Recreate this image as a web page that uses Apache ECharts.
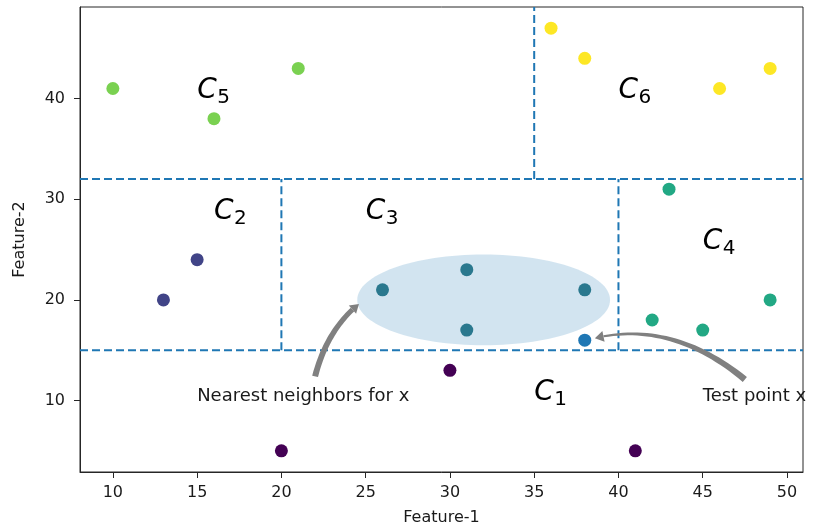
<!DOCTYPE html>
<html>
<head>
  <meta charset="utf-8">
</head>
<body style="margin: 0; background: #fff">
  <div id="container" style="width: 817px; height: 526px"></div>
  <script src="https://cdn.jsdelivr.net/npm/echarts@6/dist/echarts.min.js"></script>
  <script>
    // cluster points [feature-1, feature-2]
    var c1Points = [[20, 5], [30, 13], [41, 5]];
    var c2Points = [[13, 20], [15, 24]];
    var c3Points = [[26, 21], [31, 23], [31, 17], [38, 21]];
    var c4Points = [[43, 31], [42, 18], [45, 17], [49, 20]];
    var c5Points = [[10, 41], [16, 38], [21, 43]];
    var c6Points = [[36, 47], [38, 44], [46, 41], [49, 43]];
    var testPoint = [[38, 16]];

    var xTicks = [10, 15, 20, 25, 30, 35, 40, 45, 50];
    var yTicks = [10, 20, 30, 40];
    var xRange = [8.05, 50.95];
    var yRange = [2.9, 49.1];

    // partition lines
    var hSplits = [32, 15];
    var vSplits = [[35, 32, 49.1], [20, 15, 32], [40, 15, 32]]; // x, from y, to y

    // neighbourhood ellipse: cx, cy, width, height
    var neighborEllipse = [[32, 20, 15, 9]];

    // region labels: subscript, x, y (left / baseline)
    var regionLabels = [['1', 35, 10], ['2', 16, 28], ['3', 25, 28], ['4', 45, 25], ['5', 15, 40], ['6', 40, 40]];
    var noteTexts = [['Nearest neighbors for x', 15, 10], ['Test point x', 45, 10]];
    // arrows: tail x,y, control x,y, head x,y
    var arrows = [[22, 12.4, 22.7, 17, 24.6, 19.6], [47.5, 12.1, 43.2, 18, 38.6, 16.2]];

    var arrowWidths = [[6, 5], [6.5, 2]];
    var fontFamily = '"DejaVu Sans"';

    var dom = document.getElementById('container');
    var myChart = echarts.init(dom, null, { renderer: 'canvas' });

    function dashed(data) {
      return {
        type: 'line',
        data: data,
        symbol: 'none',
        silent: true,
        animation: false,
        lineStyle: { color: '#1f77b4', width: 2, type: [8, 4] },
        z: 1
      };
    }

    function dots(data, color) {
      return {
        type: 'scatter',
        data: data,
        symbolSize: 13,
        itemStyle: { color: color, opacity: 1 },
        z: 3
      };
    }

    function bez(p0, cp, p1, t) {
      var a = (1 - t) * (1 - t), b = 2 * (1 - t) * t, c = t * t;
      return [a * p0[0] + b * cp[0] + c * p1[0], a * p0[1] + b * cp[1] + c * p1[1]];
    }

    function arrowItem(params, api) {
      var p0 = api.coord([api.value(0), api.value(1)]);
      var cp = api.coord([api.value(2), api.value(3)]);
      var p1 = api.coord([api.value(4), api.value(5)]);
      var w = arrowWidths[params.dataIndex];
      var headLen = 9, headW = 11;
      var len = 0, prev = p0;
      for (var k = 1; k <= 40; k++) {
        var q = bez(p0, cp, p1, k / 40);
        len += Math.hypot(q[0] - prev[0], q[1] - prev[1]);
        prev = q;
      }
      var tEnd = 1 - headLen / len;
      var left = [], right = [], n = 30;
      for (var i = 0; i <= n; i++) {
        var t = tEnd * i / n;
        var pt = bez(p0, cp, p1, t);
        var dx = 2 * (1 - t) * (cp[0] - p0[0]) + 2 * t * (p1[0] - cp[0]);
        var dy = 2 * (1 - t) * (cp[1] - p0[1]) + 2 * t * (p1[1] - cp[1]);
        var dl = Math.hypot(dx, dy);
        var nx = -dy / dl, ny = dx / dl;
        var hw = (w[0] + (w[1] - w[0]) * i / n) / 2;
        left.push([pt[0] + nx * hw, pt[1] + ny * hw]);
        right.push([pt[0] - nx * hw, pt[1] - ny * hw]);
      }
      var base = bez(p0, cp, p1, tEnd);
      var ux = p1[0] - base[0], uy = p1[1] - base[1], ul = Math.hypot(ux, uy);
      var mx = -uy / ul, my = ux / ul;
      return {
        type: 'group',
        children: [
          { type: 'polygon', shape: { points: left.concat(right.reverse()) }, style: { fill: '#808080' } },
          {
            type: 'polygon',
            shape: { points: [p1, [base[0] + mx * headW / 2, base[1] + my * headW / 2], [base[0] - mx * headW / 2, base[1] - my * headW / 2]] },
            style: { fill: '#808080' }
          }
        ]
      };
    }

    var series = [];
    hSplits.forEach(function (y) {
      series.push(dashed([[xRange[0], y], [xRange[1], y]]));
    });
    vSplits.forEach(function (v) {
      series.push(dashed([[v[0], v[1]], [v[0], v[2]]]));
    });

    series.push({
      type: 'custom',
      data: neighborEllipse,
      silent: true,
      z: 2,
      renderItem: function (params, api) {
        var c = api.coord([api.value(0), api.value(1)]);
        var s = api.size([api.value(2), api.value(3)]);
        return {
          type: 'ellipse',
          shape: { cx: c[0], cy: c[1], rx: s[0] / 2, ry: s[1] / 2 },
          style: { fill: 'rgba(31,119,180,0.2)' }
        };
      }
    });

    series.push(dots(c1Points, '#440154'));
    series.push(dots(c2Points, '#414487'));
    series.push(dots(c3Points, '#2a788e'));
    series.push(dots(c4Points, '#22a884'));
    series.push(dots(c5Points, '#7ad151'));
    series.push(dots(c6Points, '#fde725'));
    series.push(dots(testPoint, '#1f77b4'));

    series.push({
      type: 'custom',
      data: arrows,
      silent: true,
      z: 4,
      renderItem: arrowItem
    });

    series.push({
      type: 'custom',
      data: regionLabels.map(function (r) { return [r[1], r[2], r[0]]; }),
      silent: true,
      z: 5,
      renderItem: function (params, api) {
        var c = api.coord([api.value(0), api.value(1)]);
        var sub = regionLabels[params.dataIndex][0];
        return {
          type: 'group',
          children: [
            {
              type: 'text', x: c[0], y: c[1] + 6,
              style: { text: 'C', font: 'italic 28px ' + fontFamily, fill: '#000', textAlign: 'left', textVerticalAlign: 'bottom' }
            },
            {
              type: 'text', x: c[0] + 20, y: c[1] + 9,
              style: { text: sub, font: '20px ' + fontFamily, fill: '#000', textAlign: 'left', textVerticalAlign: 'bottom' }
            }
          ]
        };
      }
    });

    series.push({
      type: 'custom',
      data: noteTexts.map(function (r) { return [r[1], r[2]]; }),
      silent: true,
      z: 5,
      renderItem: function (params, api) {
        var c = api.coord([api.value(0), api.value(1)]);
        return {
          type: 'text', x: c[0], y: c[1] + 5,
          style: { text: noteTexts[params.dataIndex][0], font: '18px ' + fontFamily, fill: '#1a1a1a', textAlign: 'left', textVerticalAlign: 'bottom' }
        };
      }
    });

    var option = {
      backgroundColor: '#fff',
      animation: false,
      grid: {
        left: 80, right: 14, top: 7, bottom: 54,
        outerBoundsMode: 'none',
        containLabel: false,
        show: true, borderColor: '#262626', borderWidth: 1, backgroundColor: '#fff'
      },
      xAxis: {
        type: 'value',
        min: xRange[0],
        max: xRange[1],
        name: 'Feature-1',
        nameLocation: 'middle',
        nameGap: 38,
        nameTextStyle: { fontFamily: fontFamily, fontSize: 16, color: '#1a1a1a' },
        axisLine: { show: true, onZero: false, lineStyle: { color: '#262626', width: 1 } },
        axisTick: { show: true, length: 6, customValues: xTicks, lineStyle: { color: '#262626' } },
        axisLabel: { customValues: xTicks, fontFamily: fontFamily, fontSize: 16, color: '#1a1a1a', margin: 13 },
        splitLine: { show: false }
      },
      yAxis: {
        type: 'value',
        min: yRange[0],
        max: yRange[1],
        name: 'Feature-2',
        nameLocation: 'middle',
        nameGap: 52,
        nameTextStyle: { fontFamily: fontFamily, fontSize: 16, color: '#1a1a1a' },
        axisLine: { show: true, onZero: false, lineStyle: { color: '#262626', width: 1 } },
        axisTick: { show: true, length: 6, customValues: yTicks, lineStyle: { color: '#262626' } },
        axisLabel: { customValues: yTicks, fontFamily: fontFamily, fontSize: 16, color: '#1a1a1a', margin: 15 },
        splitLine: { show: false }
      },
      series: series
    };

    myChart.setOption(option);
    window.addEventListener('resize', myChart.resize);
  </script>
</body>
</html>
